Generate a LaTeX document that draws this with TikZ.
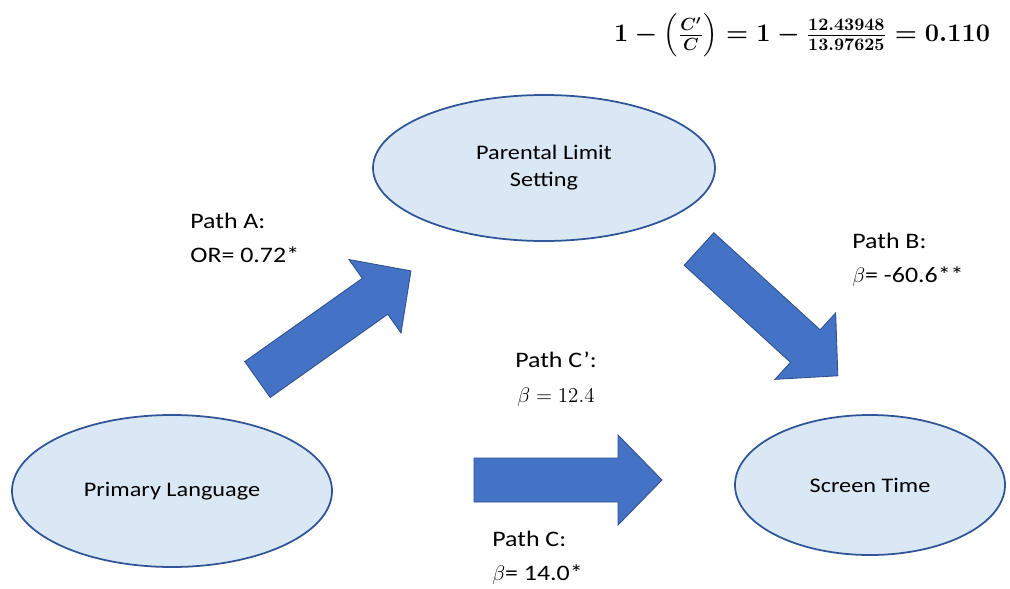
\documentclass[tikz,border=0pt]{standalone}
\usepackage{amsmath, amssymb}
\usepackage{fontspec}
\setmainfont[FakeStretch=1.17]{Carlito}
\usetikzlibrary{shapes.geometric}

\definecolor{ovalfill}{RGB}{218,232,245}
\definecolor{ovalline}{RGB}{47,85,151}
\definecolor{arrowfill}{RGB}{68,114,196}
\definecolor{arrowline}{RGB}{47,82,143}

\begin{document}
\begin{tikzpicture}[x=0.2mm, y=-0.2mm,
    oval/.style={ellipse, draw=ovalline, fill=ovalfill, line width=1pt, inner sep=0pt,
        align=center, font=\fontsize{11.8}{15.4}\selectfont},
    pathlabel/.style={inner sep=0pt, align=left, anchor=north west, font=\fontsize{12.6}{19.4}\selectfont},
    blockarrow/.style={fill=arrowfill, draw=arrowline, line width=0.5pt, line join=miter}]
    \def\barrow{(0,-22) -- (144,-22) -- (144,-45) -- (188,0) -- (144,45) -- (144,22) -- (0,22) -- cycle}
    \useasboundingbox (0,0) rectangle (1010,588);

    % variables
    \node[oval, minimum width=64mm, minimum height=30.4mm] (lang) at (172,491) {Primary Language};
    \node[oval, minimum width=68.4mm, minimum height=29.2mm] (limit) at (544,168) {Parental Limit\\Setting};
    \node[oval, minimum width=54mm, minimum height=28mm] (screen) at (870,485) {Screen Time};

    % paths
    \begin{scope}[shift={(257.5,379.5)}, rotate=35.3]
        \filldraw[blockarrow] \barrow;
    \end{scope}
    \begin{scope}[shift={(699,249)}, rotate=-42.4]
        \filldraw[blockarrow] \barrow;
    \end{scope}
    \begin{scope}[shift={(474,480)}]
        \filldraw[blockarrow] \barrow;
    \end{scope}

    \node[pathlabel] (patha) at (190,213) {Path A:\\OR= 0.72*};
    \node[pathlabel] (pathb) at (852,233) {Path B:\\$\beta$= -60.6**};
    \node[pathlabel, align=center, anchor=north] (pathcp) at (556,352) {Path C’:\\$\beta = 12.4$};
    \node[pathlabel] (pathc) at (492,531) {Path C:\\$\beta$= 14.0*};

    \node[inner sep=0pt, font=\fontsize{13.7}{16}\selectfont\boldmath] (ratio) at (802,35)
        {$1-\Bigl(\frac{C'}{C}\Bigr)=1-\frac{12.43948}{13.97625}=0.110$};
\end{tikzpicture}
\end{document}
